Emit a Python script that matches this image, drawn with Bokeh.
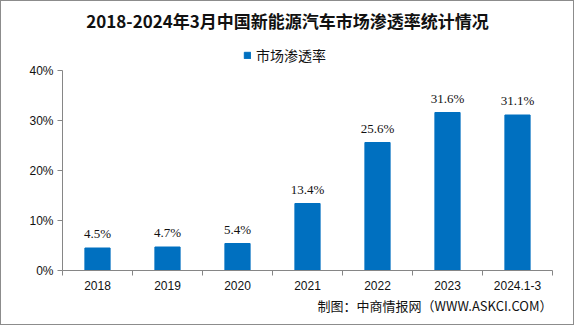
from bokeh.plotting import figure
from bokeh.models import (ColumnDataSource, FixedTicker, PrintfTickFormatter, Title, Label,
                          Range1d, LabelSet, Legend, LegendItem)
from bokeh.embed import file_html
from bokeh.resources import INLINE

categories = ["2018", "2019", "2020", "2021", "2022", "2023", "2024.1-3"]
penetration = [4.5, 4.7, 5.4, 13.4, 25.6, 31.6, 31.1]
value_labels = ["4.5%", "4.7%", "5.4%", "13.4%", "25.6%", "31.6%", "31.1%"]
y_ticks = [0, 10, 20, 30, 40]
title_text = "2018-2024年3月中国新能源汽车市场渗透率统计情况"
series_name = "市场渗透率"
source_text = "制图：中商情报网（WWW.ASKCI.COM）"

W, H = 574, 325
FRAME_H = 269          # frame spans the canvas from its top down to the x axis
xs = [i + 0.5 for i in range(len(categories))]
src = ColumnDataSource(dict(x=xs, y=penetration, lab=value_labels))

p = figure(width=W, height=H, output_backend="svg", toolbar_location=None,
           x_range=Range1d(0, len(categories)), y_range=Range1d(0, FRAME_H / 5.0),
           min_border_left=61, min_border_right=23, min_border_top=0, min_border_bottom=H - FRAME_H)
p.title = None
p.styles = {"border": "1px solid #8c8c8c"}
p.outline_line_color = None
p.grid.visible = False
p.background_fill_color = "white"
p.border_fill_color = "white"

bars = p.vbar(x="x", top="y", width=0.36, source=src, color="#0070C0")

labels = LabelSet(x="x", y="y", text="lab", source=src, y_offset=7,
                  text_align="center", text_baseline="bottom",
                  text_font="Liberation Mono", text_font_size="13px", text_color="#111111")
p.add_layout(labels)

p.xaxis.ticker = FixedTicker(ticks=xs, minor_ticks=list(range(len(categories) + 1)))
p.xaxis.major_label_overrides = {x: c for x, c in zip(xs, categories)}
p.xaxis.major_tick_out = 0
p.xaxis.major_tick_in = 0
p.xaxis.minor_tick_out = 5
p.xaxis.minor_tick_in = 0
p.xaxis.minor_tick_line_color = "#868686"
p.xaxis.axis_line_color = "#868686"
p.xaxis.major_label_text_font = "Liberation Sans"
p.xaxis.major_label_text_font_size = "12px"
p.xaxis.major_label_standoff = 5
p.xaxis.major_label_text_color = "#111111"

p.yaxis.ticker = FixedTicker(ticks=y_ticks, minor_ticks=[])
p.yaxis.bounds = (y_ticks[0], y_ticks[-1])
p.yaxis.formatter = PrintfTickFormatter(format="%d%%")
p.yaxis.major_tick_out = 5
p.yaxis.major_tick_in = 0
p.yaxis.major_tick_line_color = "#868686"
p.yaxis.axis_line_color = "#868686"
p.yaxis.major_label_text_font = "Liberation Sans"
p.yaxis.major_label_text_font_size = "12px"
p.yaxis.major_label_text_color = "#111111"
p.yaxis.major_label_standoff = 4

# screen units are relative to the frame's bottom-left corner
def sx(ix):
    return ix - 62

def sy(iy):
    return 270 - iy

p.add_layout(Label(x=sx(287), y=sy(20), x_units="screen", y_units="screen", text=title_text,
                   text_align="center", text_baseline="middle", text_font="Noto Sans CJK SC",
                   text_font_style="bold", text_font_size="17px", text_color="#111111"))

legend = Legend(items=[LegendItem(label=series_name, renderers=[bars])],
                location=(sx(243), sy(65)), orientation="horizontal",
                glyph_width=8, glyph_height=8, label_text_font="Noto Sans CJK SC",
                label_text_font_size="14px", label_text_color="#111111",
                border_line_color=None, background_fill_alpha=0,
                padding=2, margin=0, label_standoff=5)
p.add_layout(legend)

p.add_layout(Title(text=source_text, align="right", text_font="Noto Sans CJK SC",
                   text_font_style="normal", text_font_size="13px", text_color="#111111",
                   standoff=3), "below")

open("out.html", "w").write(file_html(p, INLINE))
